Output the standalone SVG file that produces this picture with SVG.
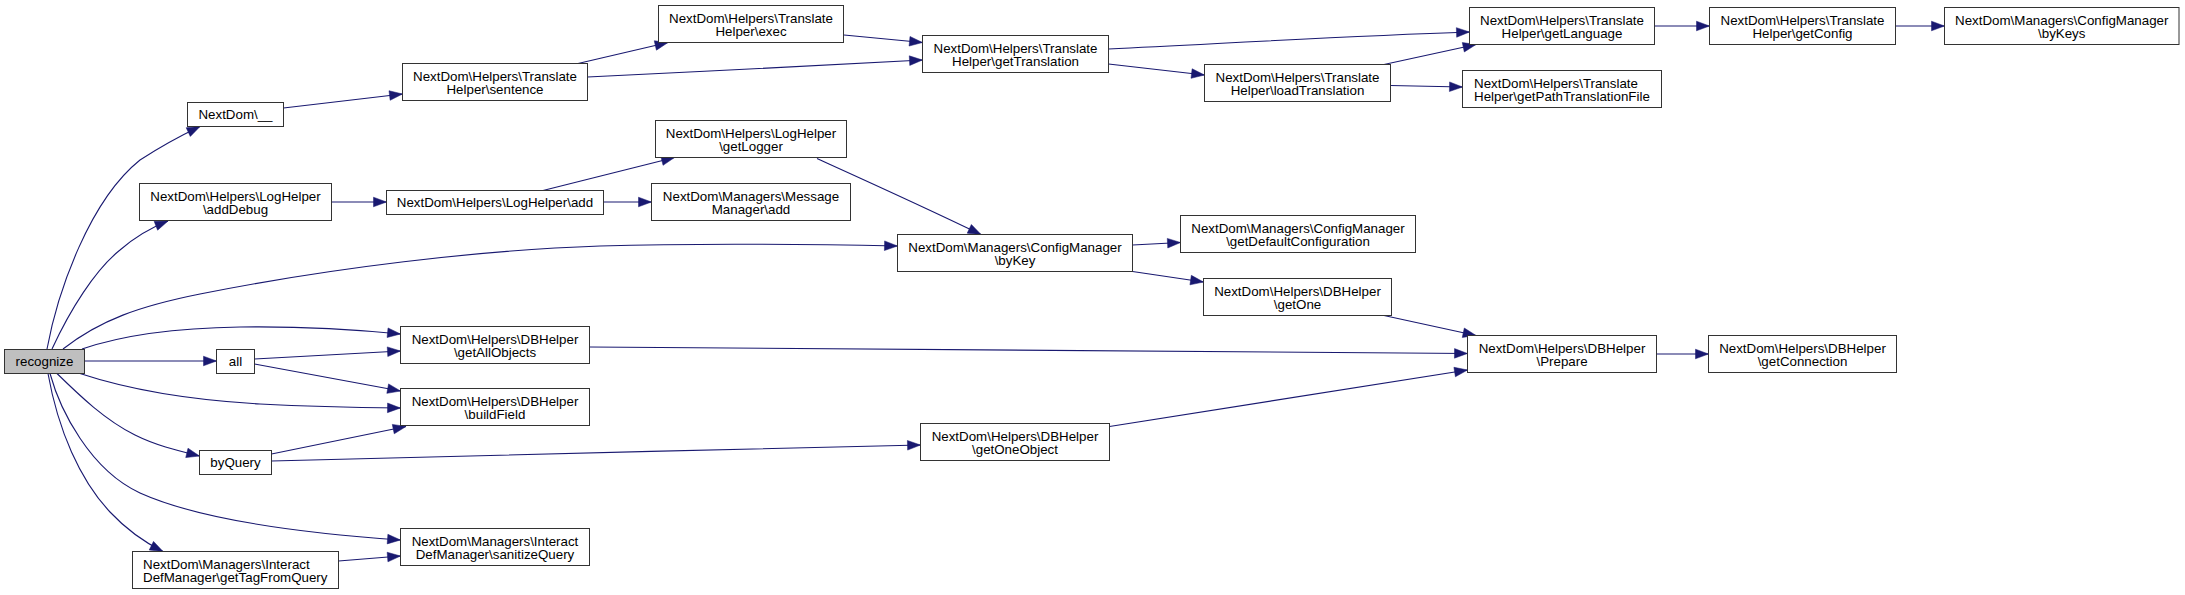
<svg xmlns="http://www.w3.org/2000/svg" width="2185" height="595" viewBox="0 0 2185 595">
<style>
.n rect{fill:#ffffff;stroke:#333333;stroke-width:1}
.n.root rect{fill:#bfbfbf}
.n text{font-family:"Liberation Sans",Arial,Helvetica,sans-serif;font-size:13.33px;fill:#000000;text-anchor:middle}
.n text.l{text-anchor:start}
.e path{fill:none;stroke:#191970;stroke-width:1.1;marker-end:url(#arr)}
</style>
<defs>
<marker id="arr" markerUnits="userSpaceOnUse" markerWidth="14" markerHeight="10" refX="13" refY="4.8" orient="auto" overflow="visible">
<path d="M0,0 L13,4.8 L0,9.6 z" fill="#191970" stroke="#191970" stroke-width="0.5"/>
</marker>
</defs>
<rect width="2185" height="595" fill="#ffffff"/>
<g id="edges" class="e">
<path d="M47,349 C58,290 90,200 140,160 C160,147 180,136 200,126.5"/>
<path d="M52,349 C70,310 95,270 120,250 C135,237 150,228 168,221"/>
<path d="M63,349 C100,320 140,306 200,294 C330,268 480,250 600,246 C700,243 800,244 897.5,246"/>
<path d="M82,349 C120,336 170,328 240,327 C310,326 360,330 400.5,334"/>
<path d="M84.5,361 L216.5,361"/>
<path d="M80,373.5 C130,390 190,400 260,404 C320,407 360,407.5 400.5,408"/>
<path d="M57,373.5 C80,396 105,420 135,435 C155,445 175,450 199.5,456"/>
<path d="M50,373.5 C60,410 90,470 140,493 C200,520 300,533 400.5,540"/>
<path d="M48,373.5 C58,430 80,480 110,512 C125,528 140,540 163,551.5"/>
<path d="M254.5,359 L400.5,351"/>
<path d="M254.5,364 L400.5,391"/>
<path d="M271.5,454 L406,426.5"/>
<path d="M271.5,461 C500,455 700,450 920.5,445"/>
<path d="M338.5,561 L400.5,556"/>
<path d="M283.5,108 L402.5,94"/>
<path d="M331.5,202 L386.5,202"/>
<path d="M578,63.5 L668,42.5"/>
<path d="M587.5,77 C700,72 800,66 922.5,60"/>
<path d="M844,35 L922.5,42.5"/>
<path d="M543,190.5 L674.5,157.5"/>
<path d="M603.5,202 L651.5,202"/>
<path d="M817,158.5 C860,178 920,205 981,234.5"/>
<path d="M1108.5,49 C1250,42 1350,36 1469.5,32"/>
<path d="M1108.5,64 L1204.5,75"/>
<path d="M1384,64.5 L1476,44.5"/>
<path d="M1390.5,85.5 L1462.5,87"/>
<path d="M1654.5,26 L1709.5,26"/>
<path d="M1895.5,26 L1944.5,26"/>
<path d="M1132.5,245 L1180.5,242.5"/>
<path d="M1132.5,271.5 L1203.5,282"/>
<path d="M1384,315.5 L1476,335.5"/>
<path d="M589.5,347 C900,348 1200,351 1467.5,353.5"/>
<path d="M1109.5,426.5 L1467.5,370"/>
<path d="M1656,354 L1708.5,354"/>
</g>
<g id="n_recognize" class="n root"><rect x="4.5" y="349.5" width="80" height="24"/><text x="44.5" y="366">recognize</text></g>
<g id="n_underscore" class="n"><rect x="187.5" y="102.5" width="96" height="24"/><text x="235.5" y="119">NextDom\__</text></g>
<g id="n_addDebug" class="n"><rect x="139.5" y="183.5" width="192" height="37"/><text x="235.5" y="200.5">NextDom\Helpers\LogHelper</text><text x="235.5" y="213.5">\addDebug</text></g>
<g id="n_all" class="n"><rect x="216.5" y="349.5" width="38" height="24"/><text x="235.5" y="366">all</text></g>
<g id="n_byQuery" class="n"><rect x="199.5" y="450.5" width="72" height="24"/><text x="235.5" y="467">byQuery</text></g>
<g id="n_getTagFromQuery" class="n"><rect x="132.5" y="551.5" width="206" height="37"/><text class="l" x="143" y="568.5">NextDom\Managers\Interact</text><text class="l" x="143" y="581.5">DefManager\getTagFromQuery</text></g>
<g id="n_sentence" class="n"><rect x="402.5" y="63.5" width="185" height="37"/><text x="495" y="80.5">NextDom\Helpers\Translate</text><text x="495" y="93.5">Helper\sentence</text></g>
<g id="n_logAdd" class="n"><rect x="386.5" y="190.5" width="217" height="24"/><text x="495" y="207">NextDom\Helpers\LogHelper\add</text></g>
<g id="n_getAllObjects" class="n"><rect x="400.5" y="326.5" width="189" height="37"/><text x="495" y="343.5">NextDom\Helpers\DBHelper</text><text x="495" y="356.5">\getAllObjects</text></g>
<g id="n_buildField" class="n"><rect x="400.5" y="388.5" width="189" height="37"/><text x="495" y="405.5">NextDom\Helpers\DBHelper</text><text x="495" y="418.5">\buildField</text></g>
<g id="n_sanitizeQuery" class="n"><rect x="400.5" y="528.5" width="189" height="37"/><text x="495" y="545.5">NextDom\Managers\Interact</text><text x="495" y="558.5">DefManager\sanitizeQuery</text></g>
<g id="n_exec" class="n"><rect x="658.5" y="5.5" width="185" height="37"/><text x="751" y="22.5">NextDom\Helpers\Translate</text><text x="751" y="35.5">Helper\exec</text></g>
<g id="n_getLogger" class="n"><rect x="655.5" y="120.5" width="191" height="37"/><text x="751" y="137.5">NextDom\Helpers\LogHelper</text><text x="751" y="150.5">\getLogger</text></g>
<g id="n_msgAdd" class="n"><rect x="651.5" y="183.5" width="199" height="37"/><text x="751" y="200.5">NextDom\Managers\Message</text><text x="751" y="213.5">Manager\add</text></g>
<g id="n_getTranslation" class="n"><rect x="922.5" y="35.5" width="186" height="37"/><text x="1015.5" y="52.5">NextDom\Helpers\Translate</text><text x="1015.5" y="65.5">Helper\getTranslation</text></g>
<g id="n_byKey" class="n"><rect x="897.5" y="234.5" width="235" height="37"/><text x="1015" y="251.5">NextDom\Managers\ConfigManager</text><text x="1015" y="264.5">\byKey</text></g>
<g id="n_getOneObject" class="n"><rect x="920.5" y="423.5" width="189" height="37"/><text x="1015" y="440.5">NextDom\Helpers\DBHelper</text><text x="1015" y="453.5">\getOneObject</text></g>
<g id="n_loadTranslation" class="n"><rect x="1204.5" y="64.5" width="186" height="37"/><text x="1297.5" y="81.5">NextDom\Helpers\Translate</text><text x="1297.5" y="94.5">Helper\loadTranslation</text></g>
<g id="n_getDefaultConfiguration" class="n"><rect x="1180.5" y="215.5" width="235" height="37"/><text x="1298" y="232.5">NextDom\Managers\ConfigManager</text><text x="1298" y="245.5">\getDefaultConfiguration</text></g>
<g id="n_getOne" class="n"><rect x="1203.5" y="278.5" width="188" height="37"/><text x="1297.5" y="295.5">NextDom\Helpers\DBHelper</text><text x="1297.5" y="308.5">\getOne</text></g>
<g id="n_getLanguage" class="n"><rect x="1469.5" y="7.5" width="185" height="37"/><text x="1562" y="24.5">NextDom\Helpers\Translate</text><text x="1562" y="37.5">Helper\getLanguage</text></g>
<g id="n_getPathTranslationFile" class="n"><rect x="1462.5" y="70.5" width="199" height="37"/><text class="l" x="1474" y="87.5">NextDom\Helpers\Translate</text><text class="l" x="1474" y="100.5">Helper\getPathTranslationFile</text></g>
<g id="n_prepare" class="n"><rect x="1467.5" y="335.5" width="189" height="37"/><text x="1562" y="352.5">NextDom\Helpers\DBHelper</text><text x="1562" y="365.5">\Prepare</text></g>
<g id="n_getConfig" class="n"><rect x="1709.5" y="7.5" width="186" height="37"/><text x="1802.5" y="24.5">NextDom\Helpers\Translate</text><text x="1802.5" y="37.5">Helper\getConfig</text></g>
<g id="n_getConnection" class="n"><rect x="1708.5" y="335.5" width="188" height="37"/><text x="1802.5" y="352.5">NextDom\Helpers\DBHelper</text><text x="1802.5" y="365.5">\getConnection</text></g>
<g id="n_byKeys" class="n"><rect x="1944.5" y="7.5" width="234.5" height="37"/><text x="2061.75" y="24.5">NextDom\Managers\ConfigManager</text><text x="2061.75" y="37.5">\byKeys</text></g>
</svg>
